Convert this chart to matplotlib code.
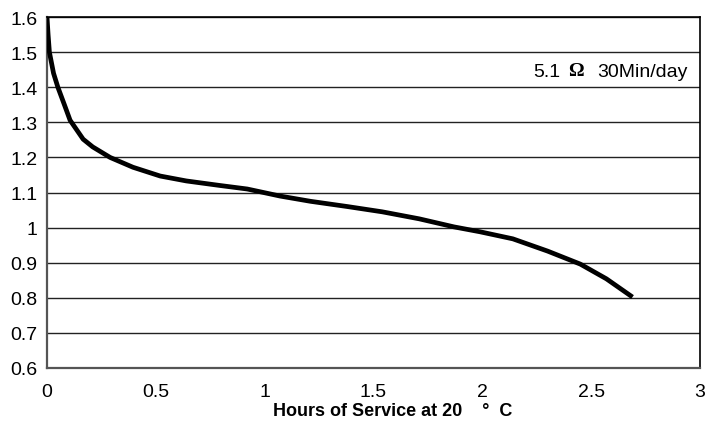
import matplotlib.pyplot as plt
import numpy as np

plt.rcParams['font.family'] = ['Liberation Sans', 'DejaVu Sans']

# discharge curve
hours = [0.0, 0.005, 0.011, 0.03, 0.05, 0.08, 0.106, 0.166, 0.21, 0.29, 0.395, 0.52, 0.64,
         0.795, 0.92, 1.07, 1.21, 1.38, 1.54, 1.71, 1.87, 1.99, 2.14, 2.30, 2.45, 2.57, 2.69]
volts = [1.6, 1.55, 1.5, 1.44, 1.4, 1.35, 1.306, 1.252, 1.23, 1.2, 1.172, 1.147, 1.133,
         1.12, 1.11, 1.09, 1.075, 1.06, 1.045, 1.025, 1.002, 0.988, 0.968, 0.933, 0.896, 0.854, 0.802]

x_ticks = [0, 0.5, 1, 1.5, 2, 2.5, 3]
x_labels = ['0', '0.5', '1', '1.5', '2', '2.5', '3']
y_ticks = [0.6, 0.7, 0.8, 0.9, 1.0, 1.1, 1.2, 1.3, 1.4, 1.5, 1.6]
y_labels = ['0.6', '0.7', '0.8', '0.9', '1', '1.1', '1.2', '1.3', '1.4', '1.5', '1.6']

fig = plt.figure(figsize=(7.09, 4.31), dpi=100)
ax = fig.add_axes([0.0663, 0.144, 0.921, 0.814])

ax.plot(hours, volts, color='black', lw=3.4, solid_capstyle='butt', solid_joinstyle='round', zorder=3)

ax.set_xlim(0, 3)
ax.set_ylim(0.6, 1.6)
ax.set_xticks(x_ticks)
ax.set_xticklabels(x_labels)
ax.set_yticks(y_ticks)
ax.set_yticklabels(y_labels)
ax.tick_params(length=0, labelsize=14, pad=7)
ax.tick_params(axis='x', pad=11)
ax.yaxis.grid(True, color='#222222', lw=1.0)
ax.set_axisbelow(True)
for s in ['left', 'bottom']:
    ax.spines[s].set_color('#555555')
    ax.spines[s].set_linewidth(1.6)
for s in ['top', 'right']:
    ax.spines[s].set_color('black')
    ax.spines[s].set_linewidth(1.2)

# note: "5.1 Ω 30Min/day", omega drawn in a bold serif like the original
ax.text(2.945, 1.445, '30Min/day', ha='right', va='center', fontsize=14)
ax.text(2.43, 1.448, '\u03a9', ha='center', va='center', fontsize=14,
        fontweight='bold', family=['Liberation Serif', 'DejaVu Serif'])
ax.text(2.36, 1.445, '5.1', ha='right', va='center', fontsize=14)

fig.text(393 / 709, 1 - 412 / 431, 'Hours of Service at 20    \u00b0  C', ha='center', va='center',
         fontsize=13, fontweight='bold')

fig.savefig('out.png', dpi=100)
